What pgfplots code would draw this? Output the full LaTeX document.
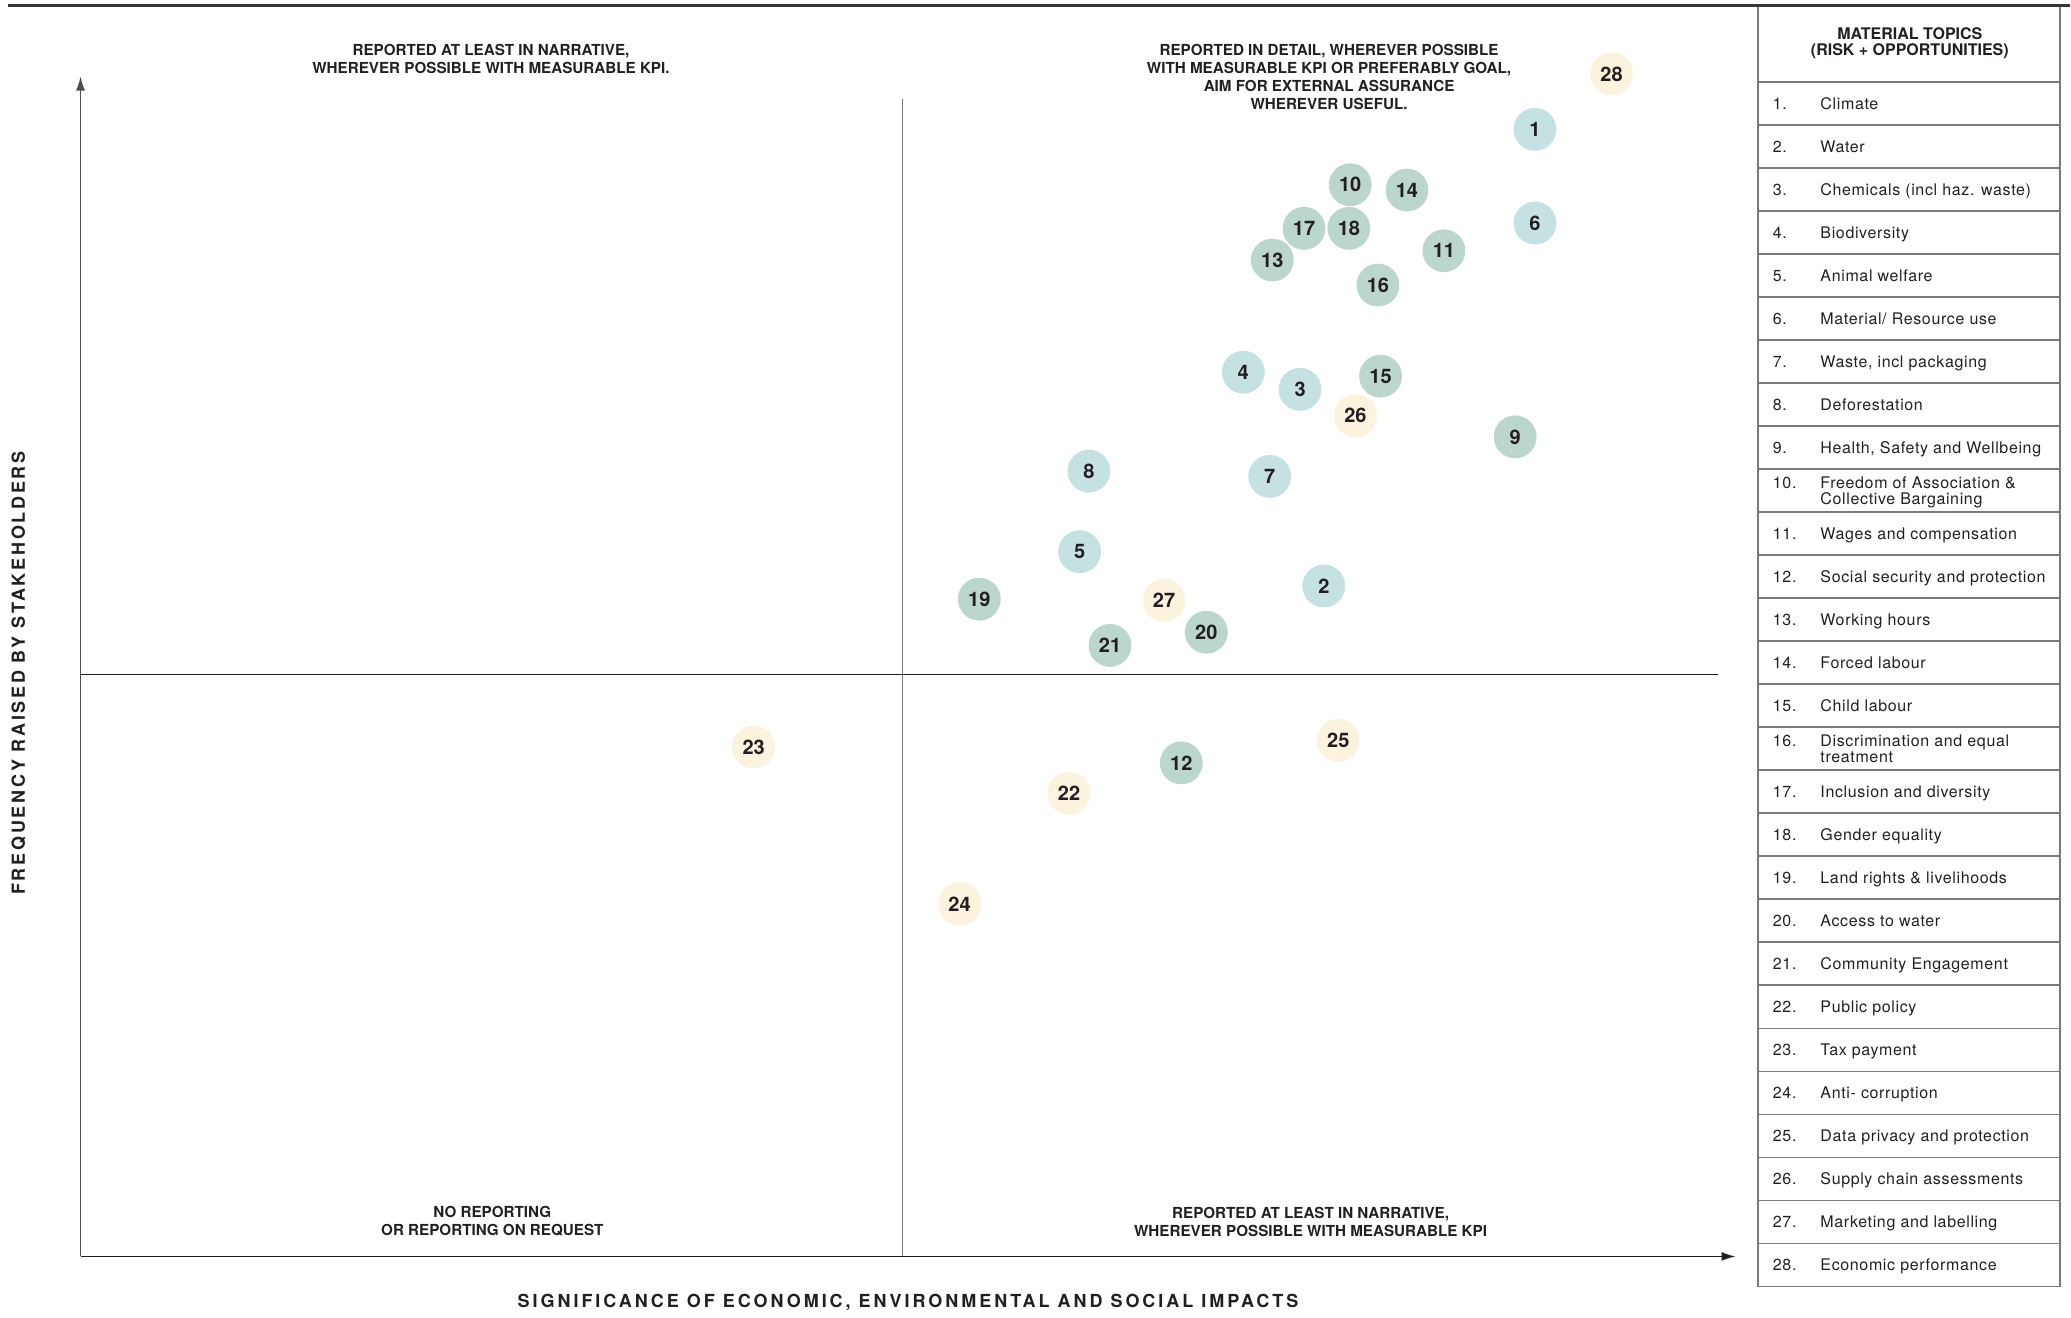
\documentclass[border=0pt]{standalone}
\usepackage{pgfplots}
\pgfplotsset{compat=1.18}
\usetikzlibrary{arrows.meta}
\usepackage{fontspec}
\setmainfont{TeX Gyre Heros}

\definecolor{bblue}{HTML}{C5E1E1}
\definecolor{bgreen}{HTML}{BBD7CB}
\definecolor{byellow}{HTML}{FBF3DE}
\definecolor{ink}{HTML}{231F20}
\definecolor{rule}{HTML}{7A7A7A}

\newcommand\bubfont{\fontsize{10}{10}\selectfont\bfseries}
\newcommand\quadfont{\fontsize{7.6}{9.0}\selectfont\bfseries}
\newcommand\tabfont{\fontsize{8}{7.9}\selectfont\addfontfeatures{LetterSpace=4}}
\newcommand\titfont{\fontsize{9}{10}\selectfont\bfseries}

% one table row: index, label
\newcommand\trow[2]{%
  \node[anchor=west,font=\tabfont,text=ink,text height=5.8pt,text depth=0pt,inner sep=0pt]
    at (1343,{62+(#1-0.5)*32.6}) {#1.};
  \node[anchor=west,font=\tabfont,text=ink,text height=5.8pt,text depth=0pt,inner sep=0pt]
    at (1379,{62+(#1-0.5)*32.6}) {#2};}
\newcommand\trowii[3]{%
  \node[anchor=west,font=\tabfont,text=ink,text height=5.8pt,text depth=0pt,inner sep=0pt]
    at (1343,{62+(#1-0.5)*32.6-6}) {#1.};
  \node[anchor=west,font=\tabfont,text=ink,text height=5.8pt,text depth=0pt,inner sep=0pt]
    at (1379,{62+(#1-0.5)*32.6-6}) {#2};
  \node[anchor=west,font=\tabfont,text=ink,text height=5.8pt,text depth=0pt,inner sep=0pt]
    at (1379,{62+(#1-0.5)*32.6+6}) {#3};}

\begin{document}
\begin{tikzpicture}
\begin{axis}[
  scale only axis, width=1034.88pt, height=656.7pt,
  xmin=0, xmax=1568, ymin=0, ymax=995, y dir=reverse,
  hide axis, clip=false,
  only marks,
  point meta=explicit symbolic,
  nodes near coords,
  every node near coord/.append style={anchor=center, inner sep=0pt, font=\bubfont, text=ink},
]
% environment
\addplot[color=bblue, mark=*, mark size=10.5pt, mark options={draw=bblue, fill=bblue}] table[meta=n] {
x y n
1163 98 1
1003 444 2
985 295 3
942 282 4
818 418 5
1163 169 6
962 361 7
825 357 8
};
% social
\addplot[color=bgreen, mark=*, mark size=10.5pt, mark options={draw=bgreen, fill=bgreen}] table[meta=n] {
x y n
1148 331 9
1023 140 10
1094 190 11
895 578 12
964 197 13
1066 144 14
1046 285 15
1044 216 16
988 173 17
1022 173 18
742 454 19
914 479 20
841 489 21
};
% governance / economic
\addplot[color=byellow, mark=*, mark size=10.5pt, mark options={draw=byellow, fill=byellow}] table[meta=n] {
x y n
810 601 22
571 566 23
727 685 24
1014 561 25
1027 315 26
882 455 27
1221 56 28
};
\end{axis}

\begin{scope}[x=0.66pt, y=-0.66pt, yshift=656.7pt]
  \path (0,0) rectangle (1568,995);
  % top rule
  \draw[line width=1.5pt, draw=ink!90] (6,4) -- (1568,4);
  % axes
  \draw[line width=0.6pt, draw=ink!80, -{Latex[length=7pt,width=4.5pt]}] (61,952) -- (61,58);
  \draw[line width=0.9pt, draw=ink, -{Latex[length=7pt,width=4.5pt]}] (61,952) -- (1315,952);
  % quadrant dividers
  \draw[line width=0.6pt, draw=rule] (684,75) -- (684,952);
  \draw[line width=0.6pt, draw=ink] (61,511) -- (1302,511);

  % quadrant texts
  \node[font=\quadfont, text=ink, align=center] at (372,45)
    {REPORTED AT LEAST IN NARRATIVE,\\WHEREVER POSSIBLE WITH MEASURABLE KPI.};
  \node[font=\quadfont, text=ink, align=center] at (1007,58.5)
    {REPORTED IN DETAIL, WHEREVER POSSIBLE\\WITH MEASURABLE KPI OR PREFERABLY GOAL,\\AIM FOR EXTERNAL ASSURANCE\\WHEREVER USEFUL.};
  \node[font=\quadfont, text=ink, align=center] at (373,925.5)
    {NO REPORTING\\OR REPORTING ON REQUEST};
  \node[font=\quadfont, text=ink, align=center] at (993,925.5)
    {REPORTED AT LEAST IN NARRATIVE,\\WHEREVER POSSIBLE WITH MEASURABLE KPI};

  % axis titles
  \node[font=\titfont\addfontfeatures{LetterSpace=16.5}, text=ink] at (688,987)
    {SIGNIFICANCE OF ECONOMIC, ENVIRONMENTAL AND SOCIAL IMPACTS};
  \node[font=\titfont\addfontfeatures{LetterSpace=15}, text=ink, rotate=90] at (14,510)
    {FREQUENCY RAISED BY STAKEHOLDERS};

  % legend table
  \draw[line width=0.9pt, draw=rule] (1332,5) -- (1332,975);
  \draw[line width=0.9pt, draw=rule] (1561,5) -- (1561,975);
  \foreach \k in {0,...,28} {
    \draw[line width=0.9pt, draw=rule] (1332,{62+\k*32.6}) -- (1561,{62+\k*32.6});
  }
  \node[font=\fontsize{8}{7.9}\selectfont\bfseries, text=ink, align=center] at (1447,33)
    {MATERIAL TOPICS\\(RISK + OPPORTUNITIES)};
  \trow{1}{Climate}
  \trow{2}{Water}
  \trow{3}{Chemicals (incl haz. waste)}
  \trow{4}{Biodiversity}
  \trow{5}{Animal welfare}
  \trow{6}{Material/ Resource use}
  \trow{7}{Waste, incl packaging}
  \trow{8}{Deforestation}
  \trow{9}{Health, Safety and Wellbeing}
  \trowii{10}{Freedom of Association \&}{Collective Bargaining}
  \trow{11}{Wages and compensation}
  \trow{12}{Social security and protection}
  \trow{13}{Working hours}
  \trow{14}{Forced labour}
  \trow{15}{Child labour}
  \trowii{16}{Discrimination and equal}{treatment}
  \trow{17}{Inclusion and diversity}
  \trow{18}{Gender equality}
  \trow{19}{Land\ rights \& livelihoods}
  \trow{20}{Access to water}
  \trow{21}{Community Engagement}
  \trow{22}{Public policy}
  \trow{23}{Tax payment}
  \trow{24}{Anti- corruption}
  \trow{25}{Data privacy and protection}
  \trow{26}{Supply chain assessments}
  \trow{27}{Marketing and labelling}
  \trow{28}{Economic performance}
\end{scope}
\end{tikzpicture}
\end{document}
